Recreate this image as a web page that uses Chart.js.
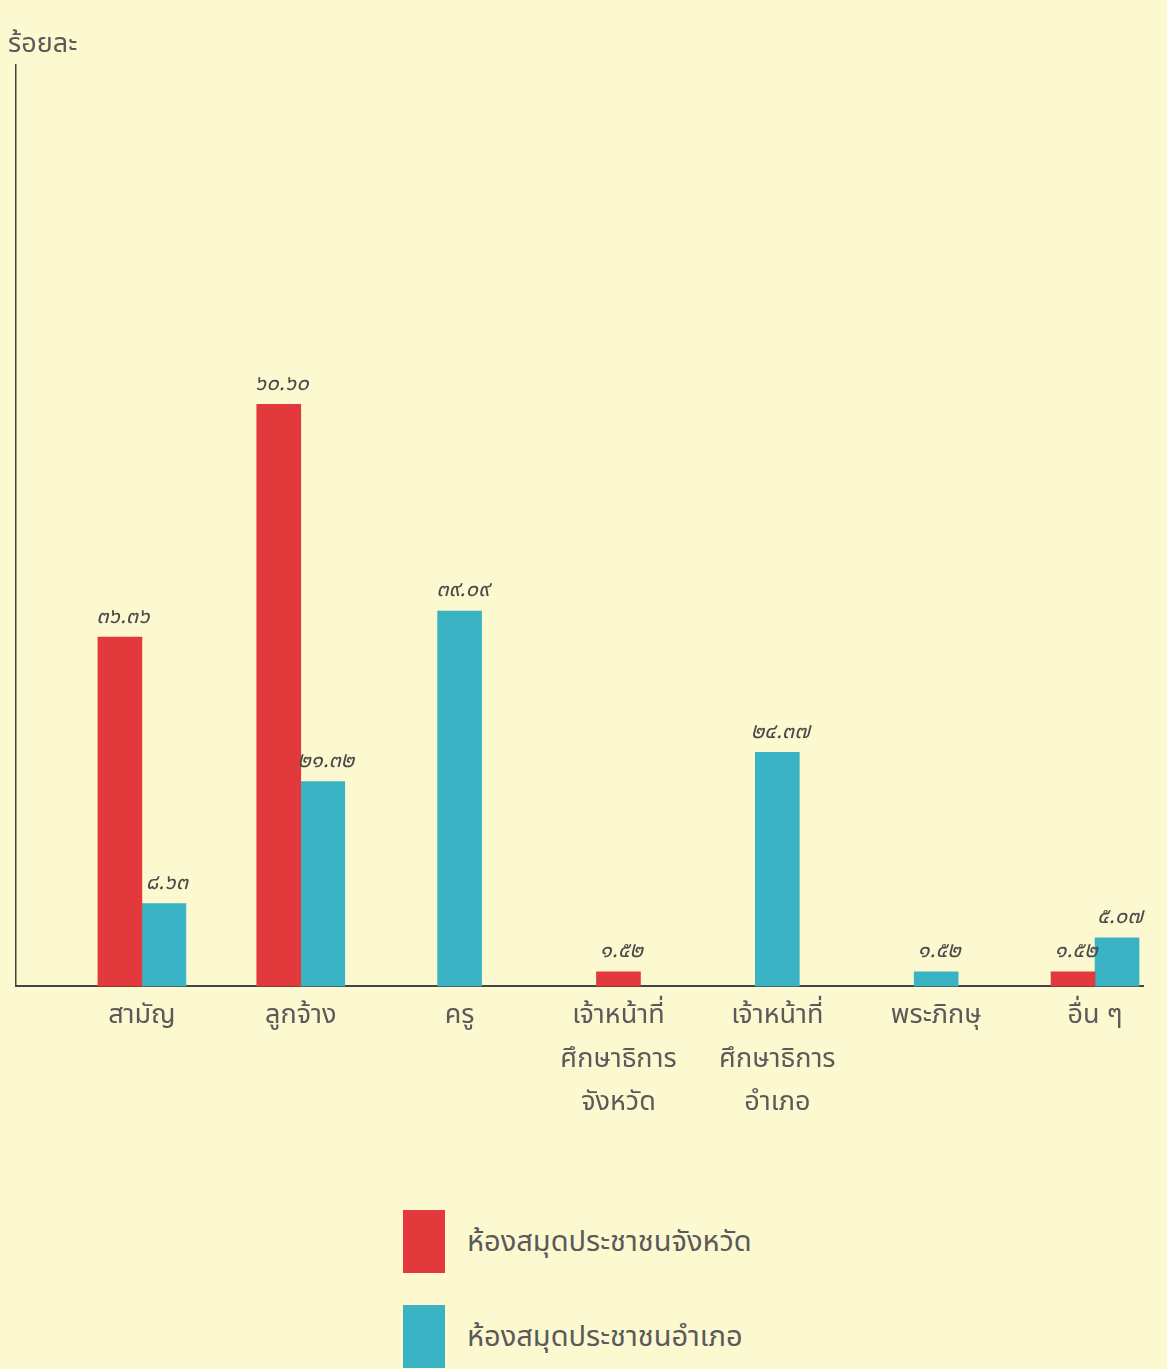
<!DOCTYPE html>
<html lang="th">
<head>
<meta charset="utf-8">
<script src="https://cdn.jsdelivr.net/npm/chart.js@4.4.1/dist/chart.umd.min.js"></script>
<style>
  html, body { margin: 0; padding: 0; background: #fcf9d0; }
  body { width: 1167px; height: 1369px; overflow: hidden; font-family: 'Noto Sans Thai', 'Noto Sans', 'DejaVu Sans', sans-serif; }
  #wrap { position: relative; width: 1167px; height: 1180px; }
  #legend { position: relative; padding: 14px 0 0 403px; }
  .item { display: flex; align-items: center; height: 95px; }
  .box { width: 42px; height: 63px; margin-right: 22px; }
  .txt { color: #5a5a5a; font-size: 29px; }
</style>
</head>
<body>
<div id="wrap"><canvas id="c" width="1167" height="1180"></canvas></div>
<div id="legend"></div>
<script>
// ---- data ----
const categories = ['สามัญ', 'ลูกจ้าง', 'ครู', 'เจ้าหน้าที่ศึกษาธิการจังหวัด', 'เจ้าหน้าที่ศึกษาธิการอำเภอ', 'พระภิกษุ', 'อื่น ๆ'];
const categoryLines = [['สามัญ'], ['ลูกจ้าง'], ['ครู'], ['เจ้าหน้าที่', 'ศึกษาธิการ', 'จังหวัด'], ['เจ้าหน้าที่', 'ศึกษาธิการ', 'อำเภอ'], ['พระภิกษุ'], ['อื่น ๆ']];
const seriesNames = ['ห้องสมุดประชาชนจังหวัด', 'ห้องสมุดประชาชนอำเภอ'];
const provincialValues = [36.36, 60.60, null, 1.52, null, null, 1.52];
const districtValues = [8.63, 21.32, 39.09, null, 24.37, 1.52, 5.07];
const axisTitle = 'ร้อยละ';

const thaiDigits = ['๐','๑','๒','๓','๔','๕','๖','๗','๘','๙'];
const toThai = v => v.toFixed(2).replace(/[0-9]/g, d => thaiDigits[+d]);

const FONT = "'Noto Sans Thai', 'Noto Sans', 'DejaVu Sans', sans-serif";
const INK = '#5a5a5a';
const RED = '#e23a3c';
const BLUE = '#3ab3c5';

const valueLabels = {
  id: 'valueLabels',
  afterDatasetsDraw(chart) {
    const ctx = chart.ctx;
    ctx.save();
    ctx.font = "italic 22px " + FONT;
    ctx.fillStyle = '#4a4a4a';
    ctx.textAlign = 'center';
    ctx.textBaseline = 'bottom';
    chart.data.datasets.forEach((ds, di) => {
      const meta = chart.getDatasetMeta(di);
      meta.data.forEach((bar, i) => {
        const v = ds.data[i];
        if (v === null || v === undefined) return;
        ctx.fillText(toThai(v), bar.x + 3, bar.y - 8);
      });
    });
    ctx.restore();
  }
};

const chart = new Chart(document.getElementById('c'), {
  type: 'bar',
  data: {
    labels: categories.map((_, i) => i),
    datasets: [
      { label: seriesNames[0], data: provincialValues, backgroundColor: RED, borderWidth: 0 },
      { label: seriesNames[1], data: districtValues, backgroundColor: BLUE, borderWidth: 0 }
    ]
  },
  options: {
    responsive: false,
    animation: false,
    skipNull: true,
    barThickness: 44,
    layout: { padding: { left: 8, right: 24, top: 0, bottom: 52 } },
    plugins: {
      legend: { display: false },
      tooltip: { enabled: false },
      title: {
        display: true,
        text: axisTitle,
        align: 'start',
        color: INK,
        font: { family: FONT, size: 27, weight: 'normal' },
        padding: { top: 30, bottom: 2 }
      }
    },
    scales: {
      x: {
        type: 'linear',
        offset: false,
        bounds: 'data',
        min: -0.7925,
        max: 6.302,
        grid: { display: false },
        border: { display: true, color: '#444', width: 2 },
        afterBuildTicks: s => { s.ticks = categories.map((_, i) => ({ value: i })); },
        ticks: {
          autoSkip: false,
          maxRotation: 0,
          padding: 2,
          color: INK,
          font: { family: FONT, size: 27, lineHeight: 1.6 },
          callback: v => categoryLines[v] || ''
        }
      },
      y: {
        min: 0,
        max: 96,
        grid: { display: false },
        border: { display: true, color: '#444', width: 1.5 },
        ticks: { display: false }
      }
    }
  },
  plugins: [valueLabels]
});

// HTML legend built from the chart's datasets
const lg = document.getElementById('legend');
chart.data.datasets.forEach(ds => {
  const it = document.createElement('div');
  it.className = 'item';
  const b = document.createElement('div');
  b.className = 'box';
  b.style.background = ds.backgroundColor;
  const t = document.createElement('div');
  t.className = 'txt';
  t.textContent = ds.label;
  it.appendChild(b); it.appendChild(t);
  lg.appendChild(it);
});
</script>
</body>
</html>
